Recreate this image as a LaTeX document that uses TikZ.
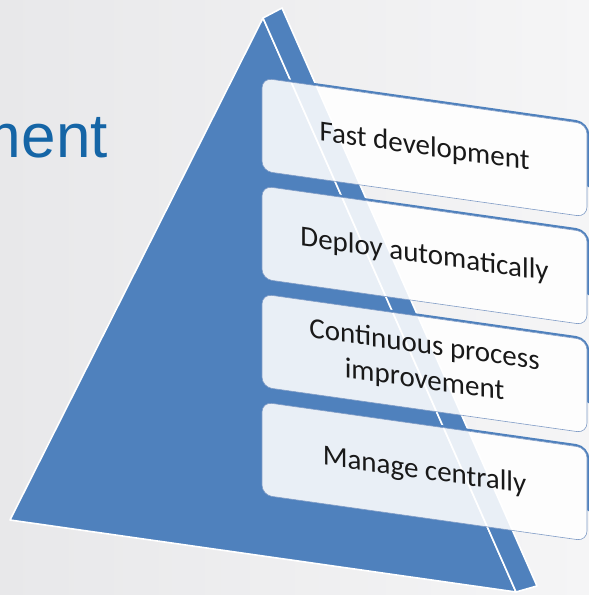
\documentclass[tikz,border=0pt]{standalone}
\usepackage{fontspec}
\setmainfont{Carlito}
\newfontfamily\titlefont{Liberation Sans}
\usepackage{xcolor}
\usetikzlibrary{positioning}

\definecolor{pyrblue}{RGB}{79,129,189}
\definecolor{titleblue}{RGB}{21,101,166}
\definecolor{boxedge}{RGB}{128,156,198}
\definecolor{bgleft}{RGB}{232,232,234}
\definecolor{bgright}{RGB}{245,245,246}

\begin{document}
\begin{tikzpicture}[x=1pt,y=1pt,
		face/.style={fill=pyrblue,draw=white,line width=1.6pt,line join=round},
		level/.style={rectangle,rounded corners=10pt,minimum width=325pt,minimum height=93pt,
			fill=white,fill opacity=0.88,text opacity=1,draw=boxedge,line width=0.6pt,
			align=center,text=black!90,font=\fontsize{29}{35}\selectfont,transform shape},
		topline/.style={pyrblue,line width=2.2pt,line cap=round}]
		\useasboundingbox (0,0) rectangle (589,595);
		\clip (0,0) rectangle (589,595);
		\shade[left color=bgleft,right color=bgright] (0,0) rectangle (589,595);
		\node[anchor=base east,inner sep=0pt,text=titleblue,font=\titlefont\fontsize{62}{70}\selectfont] (title) at (108,437) {ment};
		
		% pyramid
		\draw[face] (263,577) -- (10,75) -- (516,3) -- cycle;
		\draw[face] (263,577) -- (282,587) -- (537,9) -- (516,3) -- cycle;
		
		% levels
		\begin{scope}[shift={(262,517)},yslant=-0.1415]
		\foreach \txt [count=\i] in {Fast development,Deploy automatically,{Continuous process\\improvement},Manage centrally}
		{
			\pgfmathsetmacro{\t}{-108*(\i-1)}
			\draw[topline] (12,\t+1.3) -- (314,\t+1.3) arc[start angle=90,end angle=0,radius=12.3] -- (326.3,\t-62);
			\node[level] (lvl\i) at (162.5,\t-46.5) {\txt};
		}
		\end{scope}
\end{tikzpicture}
\end{document}
